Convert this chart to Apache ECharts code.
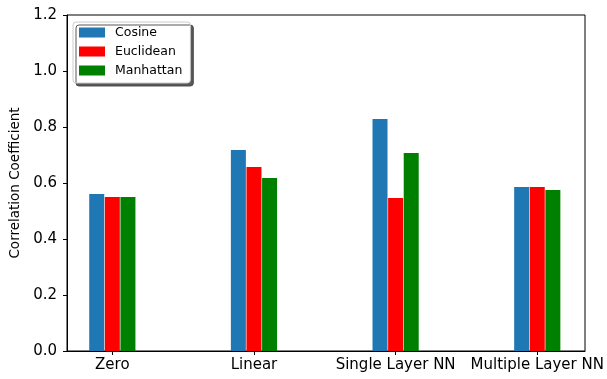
<!DOCTYPE html>
<html>
<head>
<meta charset="utf-8">
<script src="https://cdn.jsdelivr.net/npm/echarts@6/dist/echarts.min.js"></script>
<style>
  html, body { margin: 0; padding: 0; background: #fff; }
  #chart { width: 607px; height: 379px; }
</style>
</head>
<body>
<div id="chart"></div>
<script>
// Correlation coefficient per model and distance metric
const categories = ['Zero', 'Linear', 'Single Layer NN', 'Multiple Layer NN'];
const cosine    = [0.561, 0.718, 0.829, 0.586];
const euclidean = [0.550, 0.657, 0.546, 0.586];
const manhattan = [0.550, 0.618, 0.707, 0.575];
const yTicks = [0, 0.2, 0.4, 0.6, 0.8, 1.0, 1.2];

const FONT = 'DejaVu Sans';
const positions = categories.map((_, i) => i);
const pairs = vals => vals.map((v, i) => [positions[i], v]);

const chart = echarts.init(document.getElementById('chart'), null, { renderer: 'canvas' });

const barBase = { type: 'bar', barWidth: 15, barGap: '4%', emphasis: { disabled: true } };

chart.setOption({
  animation: false,
  backgroundColor: '#fff',
  textStyle: { fontFamily: FONT },
  grid: {
    left: 67, right: 22, top: 15, bottom: 28,
    show: true, borderColor: '#000', borderWidth: 1, backgroundColor: 'transparent'
  },
  legend: {
    orient: 'vertical',
    left: 73, top: 22,
    padding: [4, 8, 6, 6],
    itemWidth: 26, itemHeight: 10, itemGap: 6,
    icon: 'rect',
    backgroundColor: '#fff',
    borderColor: '#ccc', borderWidth: 1, borderRadius: 3,
    shadowColor: 'rgba(70,70,70,0.9)', shadowBlur: 0, shadowOffsetX: 3, shadowOffsetY: 3,
    textStyle: { fontFamily: FONT, fontSize: 12.5, color: '#000', padding: [0, 0, 0, 5] },
    selectedMode: false
  },
  xAxis: {
    type: 'value',
    min: -0.32, max: 3.337,
    splitLine: { show: false },
    axisLine: { show: true, onZero: false, lineStyle: { color: '#000', width: 1 } },
    axisTick: { show: true, customValues: positions, length: 4, lineStyle: { color: '#000' } },
    axisLabel: {
      customValues: positions,
      formatter: v => categories[Math.round(v)],
      color: '#000', fontFamily: FONT, fontSize: 15, margin: 7
    }
  },
  yAxis: {
    type: 'value',
    min: 0, max: 1.2, interval: 0.2,
    name: 'Correlation Coefficient',
    nameLocation: 'middle', nameGap: 43, nameRotate: 90,
    nameTextStyle: { color: '#000', fontFamily: FONT, fontSize: 13.5 },
    splitLine: { show: false },
    axisLine: { show: true, onZero: false, lineStyle: { color: '#000', width: 1 } },
    axisTick: { show: true, length: 4, lineStyle: { color: '#000' } },
    axisLabel: {
      customValues: yTicks,
      formatter: v => v.toFixed(1),
      color: '#000', fontFamily: FONT, fontSize: 15, margin: 10
    }
  },
  series: [
    Object.assign({ name: 'Cosine',    itemStyle: { color: '#1f77b4' }, data: pairs(cosine) }, barBase),
    Object.assign({ name: 'Euclidean', itemStyle: { color: '#ff0000' }, data: pairs(euclidean) }, barBase),
    Object.assign({ name: 'Manhattan', itemStyle: { color: '#008000' }, data: pairs(manhattan) }, barBase)
  ]
});
</script>
</body>
</html>
